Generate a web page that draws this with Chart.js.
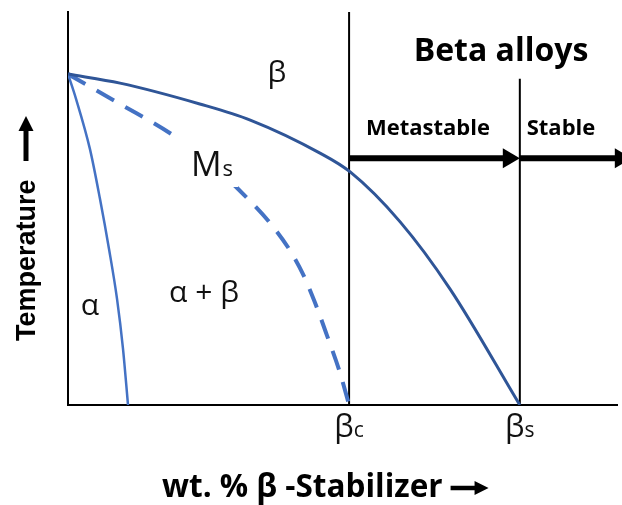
<!DOCTYPE html>
<html>
<head>
<meta charset="utf-8">
<script src="https://cdn.jsdelivr.net/npm/chart.js@4.4.1/dist/chart.umd.min.js"></script>
<style>
  html, body { margin: 0; padding: 0; background: #ffffff; }
  canvas { display: block; }
</style>
</head>
<body>
<canvas id="phase" width="622" height="505"></canvas>
<script>
// Schematic pseudo-binary Ti phase diagram: composition (wt.% beta stabilizer) vs temperature.
// Composition axis runs 0..100, temperature axis 0..100 (arbitrary units).

// Critical compositions
const betaC = 51.2;   // minimum content to retain beta on quenching
const betaS = 82.3;   // beta transus reaches the composition axis

// Beta transus (solid, dark blue)
const transusX = [0, 9.47, 24.0, 33.2, 45.9, 51.4, 60.5, 69.6, 82.3];
const transusT = [84.2, 81.9, 76.6, 72.5, 64.1, 59.3, 46.6, 29.5, 0];

// Martensite start line Ms (dashed)
const msX = [0, 9.47, 19.1, 25.9, 32.6, 36.8, 40.4, 42.8, 45.0, 47.2, 49.5, 51.2];
const msT = [84.2, 76.6, 68.7, 61.6, 52.7, 46.3, 39.4, 33.3, 26.0, 17.6, 8.4, 0];

// Alpha / alpha+beta boundary
const alphaX = [0, 1.46, 4.0, 5.83, 7.47, 8.93, 10.02, 10.93];
const alphaT = [84.2, 77.9, 65.1, 52.4, 39.7, 27.0, 14.3, 0];

// Vertical markers at the critical compositions
const markerX = [betaC, betaS];
const markerTop = [100, 83];

// Range arrows (Metastable: betaC -> betaS, Stable: betaS -> beyond)
const arrowLevel = 62.8;
const arrowStarts = [betaC, betaS];
const arrowEnds = [betaS, 102.7];

const toPoints = (xs, ys) => xs.map((x, i) => ({ x: x, y: ys[i] }));

const darkBlue = '#2F5597';
const midBlue = '#4472C4';
const textFont = '"Open Sans", "Noto Sans", sans-serif';

const datasets = [
  {
    label: 'Beta transus',
    data: toPoints(transusX, transusT),
    borderColor: darkBlue, borderWidth: 3,
    cubicInterpolationMode: 'monotone'
  },
  {
    label: 'Ms',
    data: toPoints(msX, msT),
    borderColor: midBlue, borderWidth: 4, borderDash: [20, 13],
    cubicInterpolationMode: 'monotone'
  },
  {
    label: 'Alpha boundary',
    data: toPoints(alphaX, alphaT),
    borderColor: midBlue, borderWidth: 2.5,
    cubicInterpolationMode: 'monotone'
  }
];
markerX.forEach((x, i) => {
  datasets.push({
    label: 'marker ' + i,
    data: [{ x: x, y: 0 }, { x: x, y: markerTop[i] }],
    borderColor: '#000000', borderWidth: 2
  });
});
datasets.forEach(d => { d.showLine = true; d.pointRadius = 0; d.pointHoverRadius = 0; d.fill = false; });

function arrowHead(ctx, tipX, tipY, dx, dy, len, half) {
  // dx,dy: unit direction of the arrow
  const bx = tipX - dx * len, by = tipY - dy * len;
  ctx.beginPath();
  ctx.moveTo(tipX, tipY);
  ctx.lineTo(bx - dy * half, by + dx * half);
  ctx.lineTo(bx + dy * half, by - dx * half);
  ctx.closePath();
  ctx.fill();
}

const decorations = {
  id: 'decorations',
  afterDatasetsDraw(chart) {
    const ctx = chart.ctx;
    const xs = chart.scales.x, ys = chart.scales.y;
    ctx.save();

    // Range arrows
    ctx.fillStyle = '#000';
    ctx.strokeStyle = '#000';
    ctx.lineWidth = 6;
    const ay = ys.getPixelForValue(arrowLevel);
    arrowStarts.forEach((s, i) => {
      const x0 = xs.getPixelForValue(s), x1 = xs.getPixelForValue(arrowEnds[i]);
      ctx.beginPath();
      ctx.moveTo(x0, ay);
      ctx.lineTo(x1 - 15, ay);
      ctx.stroke();
      arrowHead(ctx, x1, ay, 1, 0, 17, 10);
    });

    // Region labels
    ctx.fillStyle = '#111';
    ctx.textBaseline = 'alphabetic';
    ctx.font = '30px ' + textFont;
    ctx.textAlign = 'center';
    ctx.fillText('β', 277, 82);
    ctx.fillText('α + β', 204, 302);
    ctx.fillText('α', 90, 315);

    // Ms label on a white patch over the dashed line
    ctx.fillStyle = '#fff';
    ctx.fillRect(175, 139, 63, 48);
    ctx.fillStyle = '#111';
    ctx.textAlign = 'left';
    ctx.font = '34px ' + textFont;
    ctx.fillText('M', 191, 176);
    const mW = ctx.measureText('M').width;
    ctx.font = '22px ' + textFont;
    ctx.fillText('s', 191 + mW + 1, 176);

    // Critical composition labels under the axis
    [[betaC, 'c'], [betaS, 's']].forEach(([v, sub]) => {
      const px = xs.getPixelForValue(v);
      ctx.font = '31px ' + textFont;
      const bw = ctx.measureText('β').width;
      ctx.font = '21px ' + textFont;
      const sw = ctx.measureText(sub).width;
      const left = px - (bw + sw) / 2;
      ctx.font = '31px ' + textFont;
      ctx.fillText('β', left, 437);
      ctx.font = '21px ' + textFont;
      ctx.fillText(sub, left + bw, 437);
    });

    // Alloy class headings
    ctx.fillStyle = '#000';
    ctx.textAlign = 'center';
    ctx.font = 'bold 32px ' + textFont;
    ctx.fillText('Beta alloys', 501, 61);
    ctx.font = 'bold 22px ' + textFont;
    ctx.fillText('Metastable', 428, 135);
    ctx.fillText('Stable', 561, 135);

    // Composition axis title with arrow
    ctx.textAlign = 'left';
    ctx.font = 'bold 31.5px ' + textFont;
    const xt = 'wt. % β -Stabilizer';
    ctx.fillText(xt, 162, 497);
    const ax0 = 162 + ctx.measureText(xt).width + 8;
    ctx.lineWidth = 4.5;
    ctx.beginPath();
    ctx.moveTo(ax0, 488);
    ctx.lineTo(ax0 + 26, 488);
    ctx.stroke();
    arrowHead(ctx, ax0 + 38, 488, 1, 0, 14, 7);

    // Temperature axis title with arrow
    ctx.save();
    ctx.translate(35, 341);
    ctx.rotate(-Math.PI / 2);
    ctx.font = 'bold 27px "Liberation Sans", Arial, sans-serif';
    ctx.fillText('Temperature', 0, 0);
    ctx.restore();
    ctx.lineWidth = 5;
    ctx.beginPath();
    ctx.moveTo(26, 161);
    ctx.lineTo(26, 128);
    ctx.stroke();
    arrowHead(ctx, 26, 116, 0, -1, 15, 7.5);

    ctx.restore();
  }
};

new Chart(document.getElementById('phase'), {
  type: 'scatter',
  data: { datasets: datasets },
  options: {
    responsive: false,
    animation: false,
    devicePixelRatio: 1,
    layout: { padding: { left: 68, right: 5, top: 12, bottom: 100 } },
    plugins: { legend: { display: false }, tooltip: { enabled: false } },
    events: [],
    scales: {
      x: {
        type: 'linear', min: 0, max: 100,
        grid: { display: false },
        ticks: { display: false },
        border: { display: true, color: '#000', width: 2 },
        afterFit: s => { s.height = 0; }
      },
      y: {
        type: 'linear', min: 0, max: 100,
        grid: { display: false },
        ticks: { display: false },
        border: { display: true, color: '#000', width: 2 },
        afterFit: s => { s.width = 0; }
      }
    }
  },
  plugins: [decorations]
});
</script>
</body>
</html>
